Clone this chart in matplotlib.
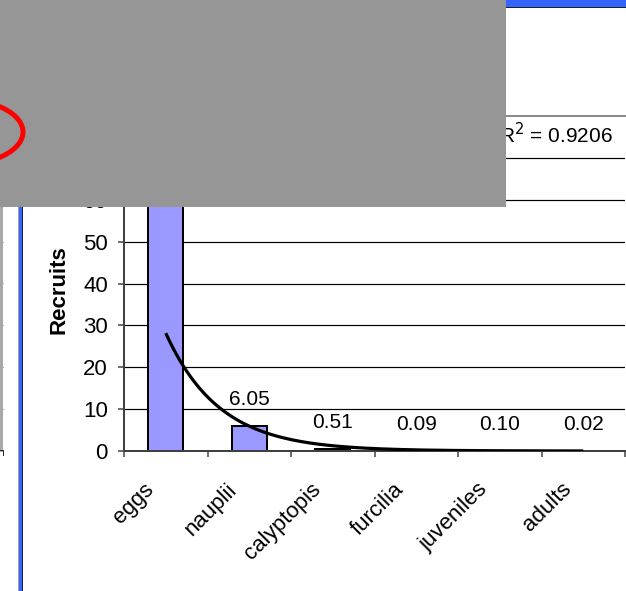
import numpy as np
import matplotlib
matplotlib.use("Agg")
import matplotlib.pyplot as plt
import matplotlib.transforms as mtransforms
from matplotlib.patches import Rectangle, Ellipse

plt.rcParams['font.family'] = ['Liberation Sans', 'DejaVu Sans']

# ---- data ----
categories = ["eggs", "nauplii", "calyptopis", "furcilia", "juveniles", "adults"]
recruits = [65.0, 6.05, 0.51, 0.09, 0.10, 0.02]
r2_label = "R$^2$ = 0.9206"
y_ticks = [0, 10, 20, 30, 40, 50, 60, 70, 80]

W, H, DPI = 626, 591, 100
fig = plt.figure(figsize=(W / DPI, H / DPI), dpi=DPI, facecolor="white")

def px(v):  # pixels -> points
    return v * 72.0 / DPI

FS = 15

ax = fig.add_axes([124 / W, (H - 451) / H, (625 - 124) / W, (451 - 116) / H])
x = np.arange(1, len(categories) + 1)

ax.set_xlim(0.5, len(categories) + 0.5)
ax.set_ylim(0, 80)

# gridlines
for t in y_ticks[1:-1]:
    ax.axhline(t, color="black", lw=px(1.2), zorder=1)

bars = ax.bar(x, recruits, width=0.42, color="#9999FF", edgecolor="black",
              linewidth=px(2), zorder=2)

for xi, v in zip(x, recruits):
    ax.annotate(f"{v:.2f}", (xi, v), xytext=(0, px(21)), textcoords="offset points",
                ha="center", va="baseline", fontsize=FS, zorder=5)

# exponential trendline (fitted to the data, as Excel does)
b, lna = np.polyfit(x, np.log(recruits), 1)
xx = np.linspace(1, len(categories), 200)
ax.plot(xx, np.exp(lna) * np.exp(b * xx), color="black", lw=px(3.2), zorder=4,
        solid_capstyle="butt")

# trendline label
fig.text(613 / W, 1 - 143 / H, r2_label, fontsize=FS, ha="right", va="baseline")
fig.text(490 / W, 1 - 143 / H, f"y = {np.exp(lna):.2f}e$^{{{b:.4f}x}}$",
         fontsize=FS, ha="right", va="baseline")

# spines
ax.spines["right"].set_visible(False)
ax.spines["top"].set_color("#8c8c8c")
ax.spines["top"].set_linewidth(px(2))
for s in ["left", "bottom"]:
    ax.spines[s].set_color("#404040")
    ax.spines[s].set_linewidth(px(2))

# y ticks
ax.set_yticks(y_ticks)
ax.set_yticklabels([str(t) for t in y_ticks], fontsize=FS + 1)
ax.tick_params(axis="y", direction="out", length=px(6), width=px(1.5),
               color="#404040", pad=px(10))

# x ticks: marks at category boundaries, labels at centers
ax.set_xticks(np.arange(0.5, len(categories) + 1, 1.0), minor=True)
ax.tick_params(axis="x", which="minor", direction="out", length=px(6),
               width=px(1.5), color="#404040")
ax.set_xticks(x)
ax.set_xticklabels(categories, rotation=45, ha="right", va="top", fontsize=FS + 1)
ax.tick_params(axis="x", which="major", length=0, pad=px(28))
shift = mtransforms.ScaledTranslation(-8 / DPI, 0, fig.dpi_scale_trans)
for lab in ax.get_xticklabels():
    lab.set_transform(lab.get_transform() + shift)

fig.text(59 / W, 1 - 290 / H, "Recruits", rotation=90, fontsize=16,
         fontweight="bold", ha="center", va="center")

# ---- overlay elements from the screenshot ----
ov = fig.add_axes([0, 0, 1, 1], zorder=10)
ov.set_xlim(0, W)
ov.set_ylim(H, 0)
ov.axis("off")
ov.patch.set_alpha(0)

ov.add_patch(Rectangle((0, 0), 506, 207, facecolor="#969696", edgecolor="none"))
ov.add_patch(Ellipse((-37, 132), 120, 64, fill=False, edgecolor="#ff0000",
                     lw=px(5)))
# blue window edge on the left
ov.add_patch(Rectangle((18, 207), 1.3, H - 207, facecolor="#a0a0a0", edgecolor="none"))
ov.add_patch(Rectangle((19.3, 207), 2.7, H - 207, facecolor="#3366FF", edgecolor="none"))
ov.add_patch(Rectangle((22, 207), 0.9, H - 207, facecolor="#1a1a4a", edgecolor="none"))
# faint neighbouring chart edge at far left
ov.add_patch(Rectangle((0, 207), 2.5, 245, facecolor="#a8a8a8", edgecolor="none"))
for yy in [242, 283, 325, 367, 409]:
    ov.add_patch(Rectangle((2.5, yy - 0.5), 1.5, 1, facecolor="#b0b0b0", edgecolor="none"))
ov.add_patch(Rectangle((0, 450), 4, 1.2, facecolor="#303030", edgecolor="none"))
ov.add_patch(Rectangle((2.8, 450), 1.2, 6, facecolor="#303030", edgecolor="none"))
# blue title bar strip at top right
ov.add_patch(Rectangle((506, 0), W - 506, 7, facecolor="#3366FF", edgecolor="none"))
ov.add_patch(Rectangle((506, 7), W - 506, 1.3, facecolor="#202020", edgecolor="none"))

fig.savefig("out.png", dpi=DPI, facecolor="white")
